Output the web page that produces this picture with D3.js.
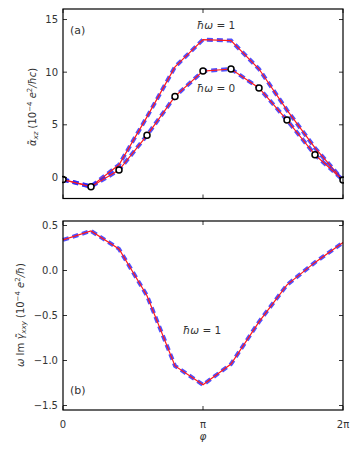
<!DOCTYPE html>
<html>
<head>
<meta charset="utf-8">
<script src="https://cdn.jsdelivr.net/npm/d3@7"></script>
<style>
  body { margin: 0; background: #fff; }
  text { font-family: "DejaVu Sans", sans-serif; }
</style>
</head>
<body>
<div class="chart"></div>
<script>
// phi sampled at k*pi/5, k = 0..10
var phiSteps = d3.range(11);

// panel (a): alpha_xz
var alphaW0 = [-0.2, -0.88, 0.7, 4.0, 7.7, 10.1, 10.3, 8.5, 5.45, 2.15, -0.25];
var alphaW1 = [-0.2, -0.85, 1.2, 5.75, 10.5, 13.1, 13.0, 10.3, 6.4, 2.8, -0.25];

// panel (b): omega Im gamma_xxy
var gammaW1 = [0.34, 0.44, 0.24, -0.28, -1.06, -1.27, -1.04, -0.57, -0.16, 0.09, 0.31];

var aTicks = [0, 5, 10, 15];
var bTicks = [0.5, 0.0, -0.5, -1.0, -1.5];
var xTicks = [0, Math.PI, 2 * Math.PI];
var xTickLabels = ["0", "π", "2π"];

var svgWidth = 359;
var svgHeight = 452;

var svg = d3.select(".chart").append("svg")
  .attr("width", svgWidth)
  .attr("height", svgHeight);

var x = d3.scaleLinear().domain([0, 2 * Math.PI]).range([63, 343]);
var yA = d3.scaleLinear().domain([-2, 16]).range([198.5, 9]);
var yB = d3.scaleLinear().domain([-1.55, 0.55]).range([410, 221]);

var fmtB = function(d) { return d3.format(".1f")(d).replace("-", "\u2212"); };

function drawFrame(y, ticks, fmt, showX) {
  var g = svg.append("g");
  var top = y.range()[1], bottom = y.range()[0];
  // ticks pointing inward on all sides
  ticks.forEach(function(t) {
    g.append("line").attr("x1", x.range()[0]).attr("x2", x.range()[0] + 4)
      .attr("y1", y(t)).attr("y2", y(t)).attr("stroke", "#000").attr("stroke-width", 0.8);
    g.append("line").attr("x1", x.range()[1]).attr("x2", x.range()[1] - 4)
      .attr("y1", y(t)).attr("y2", y(t)).attr("stroke", "#000").attr("stroke-width", 0.8);
    g.append("text").attr("x", x.range()[0] - 5).attr("y", y(t)).attr("dy", "0.35em")
      .attr("text-anchor", "end").attr("font-size", 10).attr("fill", "#333")
      .text(fmt(t));
  });
  xTicks.forEach(function(t, i) {
    g.append("line").attr("x1", x(t)).attr("x2", x(t))
      .attr("y1", bottom).attr("y2", bottom - 4).attr("stroke", "#000").attr("stroke-width", 0.8);
    g.append("line").attr("x1", x(t)).attr("x2", x(t))
      .attr("y1", top).attr("y2", top + 4).attr("stroke", "#000").attr("stroke-width", 0.8);
    if (showX) {
      g.append("text").attr("x", x(t)).attr("y", bottom + 18)
        .attr("text-anchor", "middle").attr("font-size", 10).attr("fill", "#333")
        .text(xTickLabels[i]);
    }
  });
  return g;
}

function drawCurve(y, vals) {
  var line = d3.line()
    .x(function(d, i) { return x(phiSteps[i] * Math.PI / 5); })
    .y(function(d) { return y(d); });
  svg.append("path").datum(vals).attr("d", line)
    .attr("fill", "none").attr("stroke", "#2424ff").attr("stroke-opacity", 0.8)
    .attr("stroke-width", 4).attr("stroke-dasharray", "6,4");
  svg.append("path").datum(vals).attr("d", line)
    .attr("fill", "none").attr("stroke", "#ff1a1a").attr("stroke-width", 1.2);
}

// panel (a)
drawCurve(yA, alphaW1);
drawCurve(yA, alphaW0);
svg.selectAll(".marker").data(alphaW0).enter().append("circle")
  .attr("cx", function(d, i) { return x(phiSteps[i] * Math.PI / 5); })
  .attr("cy", function(d) { return yA(d); })
  .attr("r", 3).attr("fill", "#fff").attr("stroke", "#000").attr("stroke-width", 1.5);

// panel (b)
drawCurve(yB, gammaW1);

// clip area outside frames
svg.append("rect").attr("x", 0).attr("y", 0).attr("width", 62).attr("height", svgHeight).attr("fill", "#fff");
svg.append("rect").attr("x", 344).attr("y", 0).attr("width", 20).attr("height", svgHeight).attr("fill", "#fff");

drawFrame(yA, aTicks, function(d) { return d; }, false);
drawFrame(yB, bTicks, fmtB, true);

[yA, yB].forEach(function(y) {
  svg.append("rect").attr("x", 63).attr("y", y.range()[1])
    .attr("width", 280).attr("height", y.range()[0] - y.range()[1])
    .attr("fill", "none").attr("stroke", "#000").attr("stroke-width", 1.2);
});

// annotations
function hbarOmega(xp, yp, val) {
  var t = svg.append("text").attr("x", xp).attr("y", yp).attr("font-size", 10.5).attr("fill", "#333");
  t.append("tspan").attr("font-style", "italic").text("ħω");
  t.append("tspan").text(" = " + val);
}
svg.append("text").attr("x", 70).attr("y", 34).attr("font-size", 11).attr("fill", "#333").text("(a)");
hbarOmega(197, 29, 1);
hbarOmega(197, 92, 0);
hbarOmega(183, 334, 1);
svg.append("text").attr("x", 70).attr("y", 394).attr("font-size", 11).attr("fill", "#333").text("(b)");

// x label
svg.append("text").attr("x", x(Math.PI)).attr("y", 440).attr("text-anchor", "middle")
  .attr("font-size", 10.5).attr("font-style", "italic").attr("fill", "#333").text("φ");

// y labels
var la = svg.append("text").attr("transform", "translate(36,107) rotate(-90)")
  .attr("text-anchor", "middle").attr("font-size", 10).attr("fill", "#333");
la.append("tspan").attr("font-style", "italic").text("α\u0303");
la.append("tspan").attr("font-style", "italic").attr("font-size", 7).attr("dy", 2).text("xz");
la.append("tspan").attr("dy", -2).text("  (10");
la.append("tspan").attr("font-size", 7).attr("dy", -4).text("−4");
la.append("tspan").attr("font-style", "italic").attr("dy", 4).text(" e");
la.append("tspan").attr("font-size", 7).attr("dy", -4).text("2");
la.append("tspan").attr("font-style", "italic").attr("dy", 4).text("/ħc");
la.append("tspan").text(")");

var lb = svg.append("text").attr("transform", "translate(24,315) rotate(-90)")
  .attr("text-anchor", "middle").attr("font-size", 10).attr("fill", "#333");
lb.append("tspan").attr("font-style", "italic").text("ω");
lb.append("tspan").text(" Im ");
lb.append("tspan").attr("font-style", "italic").text("γ\u0303");
lb.append("tspan").attr("font-style", "italic").attr("font-size", 7).attr("dy", 2).text("xxy");
lb.append("tspan").attr("dy", -2).text("  (10");
lb.append("tspan").attr("font-size", 7).attr("dy", -4).text("−4");
lb.append("tspan").attr("font-style", "italic").attr("dy", 4).text(" e");
lb.append("tspan").attr("font-size", 7).attr("dy", -4).text("2");
lb.append("tspan").attr("font-style", "italic").attr("dy", 4).text("/ħ");
lb.append("tspan").text(")");
</script>
</body>
</html>
